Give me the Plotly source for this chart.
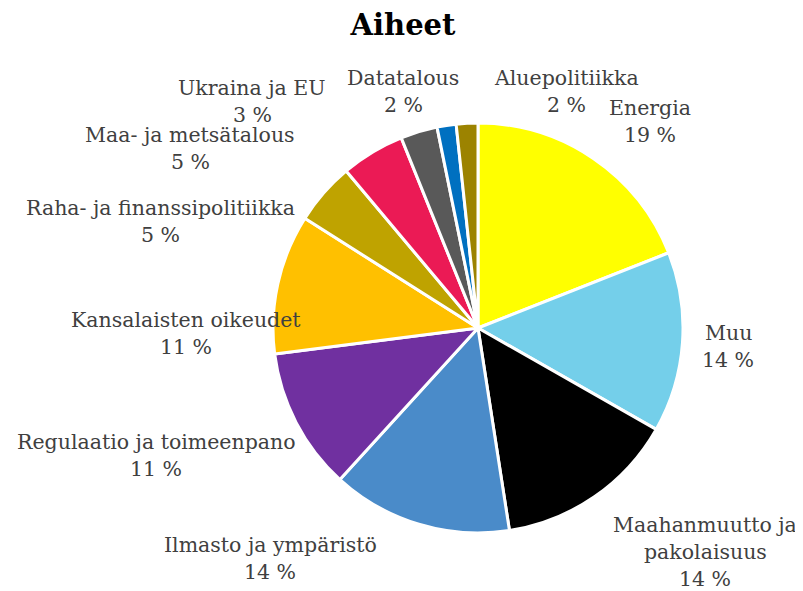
import plotly.graph_objects as go

categories = ["Energia", "Muu", "Maahanmuutto ja pakolaisuus", "Ilmasto ja ympäristö",
              "Regulaatio ja toimeenpano", "Kansalaisten oikeudet", "Raha- ja finanssipolitiikka",
              "Maa- ja metsätalous", "Ukraina ja EU", "Datatalous", "Aluepolitiikka"]
values = [19.0, 14.2, 14.3, 14.2, 11.2, 11.0, 4.9, 5.0, 2.9, 1.5, 1.7]
percent_labels = ["19 %", "14 %", "14 %", "14 %", "11 %", "11 %", "5 %", "5 %", "3 %", "2 %", "2 %"]
colors = ["#FFFF00", "#74CFEA", "#000000", "#4A8BC9", "#7030A0", "#FFC000",
          "#BFA300", "#EB1A55", "#595959", "#0070C0", "#9C8300"]

# label text lines (category name split into lines) and pixel positions (layout)
label_lines = {
    "Maahanmuutto ja pakolaisuus": ["Maahanmuutto ja", "pakolaisuus"],
}
label_pos = [(650, 108), (728, 333), (705, 525), (270, 545), (156, 442), (186, 320),
             (160, 208), (190, 135), (252, 88), (403, 78), (566, 78)]
OFF = 8  # page body margin
W, H = 803 - OFF, 591 - OFF
LINE = 27


def px_x(x):
    return (x - OFF) / W


def px_y(y):
    return 1 - (y - OFF) / H


fig = go.Figure(go.Pie(
    labels=categories, values=values, sort=False, direction="clockwise", rotation=0,
    marker=dict(colors=colors, line=dict(color="white", width=3)),
    textinfo="none", hoverinfo="label+percent", showlegend=False,
    domain=dict(x=[px_x(273), px_x(683)], y=[px_y(533), px_y(123)]),
))

annotations = []
for cat, pct, (px, py) in zip(categories, percent_labels, label_pos):
    lines = label_lines.get(cat, [cat]) + [pct]
    for i, t in enumerate(lines):
        annotations.append(dict(
            x=px_x(px), y=px_y(py + i * LINE), xref="paper", yref="paper",
            text=t, showarrow=False, xanchor="center", yanchor="middle",
            font=dict(family="DejaVu Serif", size=20.5, color="#404040")))

fig.update_layout(
    width=W, height=H, margin=dict(l=0, r=0, t=0, b=0),
    paper_bgcolor="white", plot_bgcolor="white",
    title=dict(text="<b>Aiheet</b>", x=px_x(403), xanchor="center", y=px_y(25), yanchor="middle",
               font=dict(family="DejaVu Serif", size=29, color="black")),
    annotations=annotations,
)
fig.write_html("out.html")
